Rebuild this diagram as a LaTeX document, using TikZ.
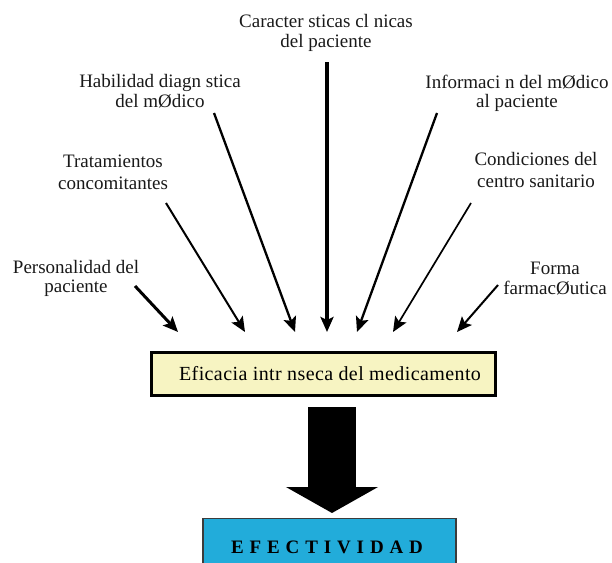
\documentclass[tikz,border=0pt]{standalone}
\usepackage{fontspec}
\setmainfont{Liberation Serif}
\newfontfamily\effont[LetterSpace=2]{Liberation Serif}
\newfontfamily\efbold[LetterSpace=31]{Liberation Serif}
\usetikzlibrary{arrows.meta}
\definecolor{boxyellow}{HTML}{F7F4C2}
\definecolor{boxblue}{HTML}{22ACDA}
\definecolor{bordergray}{HTML}{3C3C3C}
\begin{document}
\begin{tikzpicture}[x=1pt,y=-1pt,
  lbl/.style={align=center,inner sep=0pt,text=black!90},
  tight/.style={font=\fontsize{19}{19.5}\selectfont},
  loose/.style={font=\fontsize{19}{21.5}\selectfont},
  factor/.style={line width=#1,-{Stealth[length=15pt,width=13pt,inset=3pt]}},
  effbox/.style={draw=black,line width=3pt,fill=boxyellow,inner sep=0pt,
    minimum width=344pt,minimum height=43pt,
    font=\effont\fontsize{20}{20}\selectfont},
  bluebox/.style={draw=bordergray,line width=1.2pt,fill=boxblue,inner sep=0pt,
    minimum width=253pt,minimum height=50pt},
  bigarrow/.style={line width=48pt,-{Triangle[length=26pt,width=91pt]}}]
\clip (0,0) rectangle (612,562);

% labels
\node[lbl,tight] (carac) at (326,33) {Caracter sticas cl nicas\\del paciente};
\node[lbl,tight] (habil) at (160,91) {Habilidad diagn stica\\del mØdico};
\node[lbl,tight] (info) at (517,93.5) {Informaci n del mØdico\\al paciente};
\node[lbl,loose] (trat) at (113,172.5) {Tratamientos\\concomitantes};
\node[lbl,loose] (cond) at (536,170) {Condiciones del\\centro sanitario};
\node[lbl,tight] (pers) at (76,278.5) {Personalidad del\\paciente};
\node[lbl,tight] (forma) at (555,278.5) {Forma\\farmacØutica};

% boxes
\node[effbox] (eff) at (323.5,374) {\hspace*{13pt}Eficacia intr nseca del medicamento};
\node[bluebox,anchor=north] (efect) at (329.5,518) {};
\node[anchor=base,inner sep=0pt,font={\efbold\bfseries\fontsize{19}{19}\selectfont}] (eftext) at (327,553) {EFECTIVIDAD};

% connector end points
\coordinate (s1) at (135,286); \coordinate (t1) at (178,332);
\coordinate (s2) at (166,203); \coordinate (t2) at (245,332);
\coordinate (s3) at (214,113); \coordinate (t3) at (295,332);
\coordinate (s4) at (327,62);  \coordinate (t4) at (327,332);
\coordinate (s5) at (437,113); \coordinate (t5) at (357,332);
\coordinate (s6) at (471,203); \coordinate (t6) at (393,332);
\coordinate (s7) at (498,285); \coordinate (t7) at (457,332);
\coordinate (a1) at (332,407); \coordinate (a2) at (332,513);

\draw[factor=3pt] (s1) -- (t1);
\draw[factor=2pt] (s2) -- (t2);
\draw[factor=2.3pt] (s3) -- (t3);
\draw[factor=3.3pt] (s4) -- (t4);
\draw[factor=2.3pt] (s5) -- (t5);
\draw[factor=1.7pt] (s6) -- (t6);
\draw[factor=2pt] (s7) -- (t7);

\draw[bigarrow] (a1) -- (a2);
\end{tikzpicture}
\end{document}
